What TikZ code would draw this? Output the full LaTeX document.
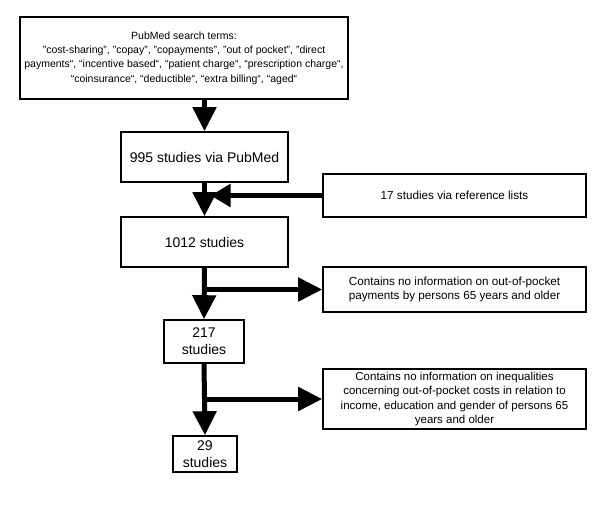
\documentclass[tikz,border=0pt]{standalone}
\usepackage{fontspec}
\setmainfont{Liberation Sans}
\usetikzlibrary{arrows.meta}
\begin{document}
\begin{tikzpicture}[x=1pt,y=-1pt,
  box/.style={draw,line width=1.6pt,inner sep=0pt,align=center},
  bigtext/.style={font=\fontsize{14}{17}\selectfont},
  sidetext/.style={font=\fontsize{11.7}{14.2}\selectfont},
  flow/.style={line width=5pt,-{Triangle[width=23pt,length=24pt]}},
  flowside/.style={line width=5pt,-{Triangle[width=22pt,length=20pt]}},
]
\useasboundingbox (0,0) rectangle (600,507);
\node[box,minimum width=328pt,minimum height=82pt,font=\fontsize{10.5}{14.3}\selectfont] (top) at (184,58)
  {PubMed search terms:\\
   "cost-sharing", "copay", "copayments", "out of pocket", "direct\\
   payments“, “incentive based“, “patient charge“, “prescription charge“,\\
   “coinsurance“, “deductible“, “extra billing“, “aged“};
\node[box,bigtext,minimum width=167pt,minimum height=50pt] (b2) at (204.5,157) {995 studies via PubMed};
\node[box,sidetext,minimum width=263pt,minimum height=43pt] (s17) at (454.5,195.5) {17 studies via reference lists};
\node[box,bigtext,minimum width=167pt,minimum height=50pt] (b3) at (204.5,242) {1012 studies};
\node[box,sidetext,minimum width=263pt,minimum height=45pt] (ex1) at (454.5,289.5)
  {Contains no information on out-of-pocket\\payments by persons 65 years and older};
\node[box,bigtext,minimum width=80pt,minimum height=43pt] (b4) at (204,341.5) {217\\studies};
\node[box,sidetext,minimum width=263pt,minimum height=60pt,font=\fontsize{11.5}{14.6}\selectfont] (ex2) at (454.5,399)
  {Contains no information on inequalities\\concerning out-of-pocket costs in relation to\\income, education and gender of persons 65\\years and older};
\node[box,bigtext,minimum width=64pt,minimum height=36pt] (b5) at (205,454) {29\\studies};

\coordinate (t1) at (b2.north |- top.south);
\coordinate (m1) at ([xshift=6pt]b2.south |- s17.west);
\coordinate (j1) at (b3.south |- ex1.west);
\coordinate (j2) at (b4.south |- ex2.west);

\draw[flow] (t1) -- (b2.north);
\draw[flow] (b2.south) -- (b3.north);
\draw[flowside] (s17.west) -- (m1);
\draw[flow] (b3.south) -- (b4.north);
\draw[flow] ([xshift=-2.5pt]j1) -- (ex1.west);
\draw[flow] (b4.south) -- (b5.north);
\draw[flow] ([xshift=-2.5pt]j2) -- (ex2.west);
\end{tikzpicture}
\end{document}
